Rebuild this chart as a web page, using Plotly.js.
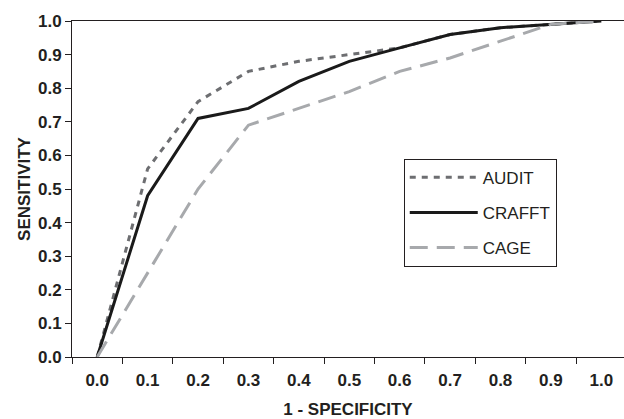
<!DOCTYPE html>
<html>
<head>
<meta charset="utf-8">
<script src="https://cdn.plot.ly/plotly-3.0.1.min.js"></script>
<style>
html,body{margin:0;padding:0;background:#fff;}
#chart{width:624px;height:419px;}
</style>
</head>
<body>
<div id="chart"></div>
<script>
// Categories on the x axis (1 - specificity)
var categories = ['0.0','0.1','0.2','0.3','0.4','0.5','0.6','0.7','0.8','0.9','1.0'];
// Sensitivity values per screening instrument
var auditValues  = [0.00, 0.56, 0.76, 0.85, 0.88, 0.90, 0.92, 0.96, 0.98, 0.99, 1.00];
var crafftValues = [0.00, 0.48, 0.71, 0.74, 0.82, 0.88, 0.92, 0.96, 0.98, 0.99, 1.00];
var cageValues   = [0.00, 0.25, 0.50, 0.69, 0.74, 0.79, 0.85, 0.89, 0.94, 0.99, 1.00];
var seriesNames  = ['AUDIT', 'CRAFFT', 'CAGE'];
var yTickVals   = [0,0.1,0.2,0.3,0.4,0.5,0.6,0.7,0.8,0.9,1.0];
var yTickLabels = ['0.0','0.1','0.2','0.3','0.4','0.5','0.6','0.7','0.8','0.9','1.0'];

var ink = '#231f20';
var fam = '"Liberation Sans", Arial, sans-serif';
function bold(s) { return '<b>' + s + '</b>'; }

var traces = [
  {x: categories, y: auditValues, name: seriesNames[0], mode: 'lines', legendgroup: 'a',
   line: {color: '#6d6e71', width: 3, dash: '6px,6px'}},
  {x: categories, y: crafftValues, name: seriesNames[1], mode: 'lines', legendgroup: 'b',
   line: {color: '#1a1a1a', width: 3}},
  {x: categories, y: cageValues, name: seriesNames[2], mode: 'lines', legendgroup: 'c',
   line: {color: '#a7a9ac', width: 3, dash: '18px,9px'}}
];

var layout = {
  width: 624, height: 419,
  margin: {l: 72, r: 0, t: 21, b: 62},
  paper_bgcolor: '#fff', plot_bgcolor: '#fff',
  font: {family: fam, color: ink},
  showlegend: true,
  legend: {
    x: 0.601, y: 0.59, xanchor: 'left', yanchor: 'top',
    bordercolor: ink, borderwidth: 1, bgcolor: '#fff',
    font: {size: 17, color: ink}, tracegroupgap: 10, traceorder: 'grouped',
    itemwidth: 68
  },
  xaxis: {
    type: 'category', range: [-0.5, 10.45],
    tickmode: 'array', tickvals: categories, ticktext: categories.map(bold),
    tickson: 'boundaries', ticks: 'outside', ticklen: 6, tickcolor: ink,
    showline: true, linecolor: ink, linewidth: 1, mirror: true,
    showgrid: false, zeroline: false,
    ticklabelstandoff: 8,
    tickfont: {size: 17, family: fam, color: ink},
    title: {text: '<b>1 - SPECIFICITY</b>', font: {size: 17, color: ink}, standoff: 19}
  },
  yaxis: {
    range: [0, 1], tickmode: 'array', tickvals: yTickVals, ticktext: yTickLabels.map(bold),
    ticks: 'outside', ticklen: 6, tickcolor: ink,
    showline: true, linecolor: ink, linewidth: 1,
    showgrid: false, zeroline: false,
    tickfont: {size: 17, family: fam, color: ink},
    title: {text: '<b>SENSITIVITY</b>', font: {size: 17, color: ink}, standoff: 3}
  }
};

Plotly.newPlot('chart', traces, layout, {displayModeBar: false, staticPlot: true});
</script>
</body>
</html>
